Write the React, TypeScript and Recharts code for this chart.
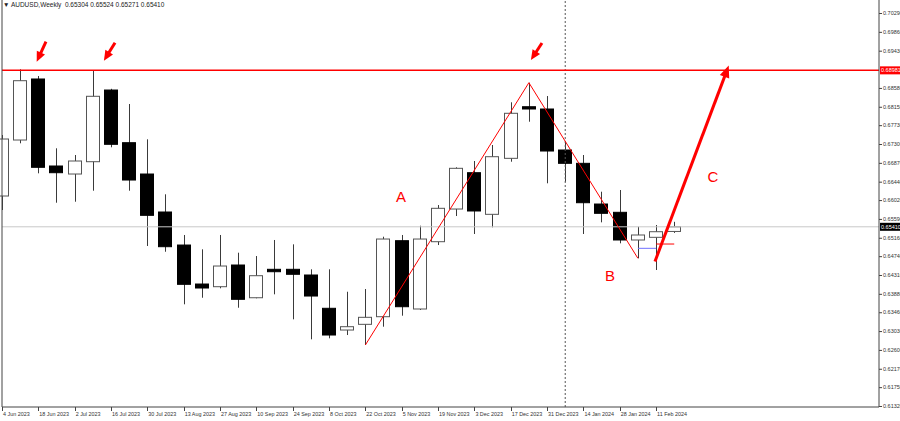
import React from 'react';
import { ComposedChart, Bar, XAxis, YAxis, ReferenceLine, ReferenceDot } from 'recharts';

const weeks = [
  '4 Jun 2023', '11 Jun 2023', '18 Jun 2023', '25 Jun 2023', '2 Jul 2023', '9 Jul 2023', '16 Jul 2023',
  '23 Jul 2023', '30 Jul 2023', '6 Aug 2023', '13 Aug 2023', '20 Aug 2023', '27 Aug 2023', '3 Sep 2023',
  '10 Sep 2023', '17 Sep 2023', '24 Sep 2023', '1 Oct 2023', '8 Oct 2023', '15 Oct 2023', '22 Oct 2023',
  '29 Oct 2023', '5 Nov 2023', '12 Nov 2023', '19 Nov 2023', '26 Nov 2023', '3 Dec 2023', '10 Dec 2023',
  '17 Dec 2023', '24 Dec 2023', '31 Dec 2023', '7 Jan 2024', '14 Jan 2024', '21 Jan 2024', '28 Jan 2024',
  '4 Feb 2024', '11 Feb 2024', '18 Feb 2024',
];

const opens = [
  0.66113, 0.67391, 0.68784, 0.66798, 0.66615, 0.66896, 0.68532, 0.6733, 0.66615, 0.65748,
  0.64994, 0.64104, 0.64043, 0.64538, 0.63791, 0.6444, 0.6444, 0.6431, 0.6355, 0.63054,
  0.63184, 0.63358, 0.65093, 0.63534, 0.6507, 0.65816, 0.66645, 0.65695, 0.66973, 0.68151,
  0.68099, 0.67163, 0.66859, 0.6593, 0.65741, 0.65109, 0.6517, 0.65304,
];
const highs = [
  0.67505, 0.69005, 0.68852, 0.67202, 0.67049, 0.68966, 0.6856, 0.68213, 0.67407, 0.66152,
  0.65223, 0.64896, 0.65223, 0.64819, 0.64743, 0.65109, 0.6501, 0.6444, 0.6444, 0.63928,
  0.6399, 0.65184, 0.65223, 0.65435, 0.65907, 0.66768, 0.66912, 0.67277, 0.68252, 0.68699,
  0.68395, 0.67352, 0.67049, 0.66211, 0.6625, 0.65412, 0.65451, 0.65524,
];
const lows = [
  0.65793, 0.67316, 0.66631, 0.6596, 0.65983, 0.66234, 0.67225, 0.66234, 0.64972, 0.64841,
  0.63641, 0.63791, 0.64006, 0.63563, 0.63778, 0.63869, 0.63298, 0.62842, 0.62865, 0.6294,
  0.62712, 0.6313, 0.63381, 0.63511, 0.64994, 0.65656, 0.65246, 0.65398, 0.66896, 0.67809,
  0.66403, 0.66439, 0.65246, 0.65512, 0.65033, 0.64691, 0.64424, 0.65271,
];
const closes = [
  0.67414, 0.68745, 0.66768, 0.66645, 0.66912, 0.68389, 0.67293, 0.66478, 0.65672, 0.64956,
  0.64097, 0.64013, 0.64515, 0.63755, 0.64294, 0.64385, 0.64326, 0.6383, 0.6294, 0.6313,
  0.63344, 0.65131, 0.63586, 0.65131, 0.65832, 0.66745, 0.65771, 0.6701, 0.68001, 0.68099,
  0.6714, 0.66859, 0.6596, 0.65718, 0.65109, 0.65223, 0.65298, 0.6541,
];

const xTickIdx = [0, 2, 4, 6, 8, 10, 12, 14, 16, 18, 20, 22, 24, 26, 28, 30, 32, 34, 36];
const priceTicks = [
  0.7029, 0.6986, 0.6943, 0.68981, 0.6858, 0.6815, 0.6773, 0.673, 0.6687, 0.6644, 0.6602,
  0.6559, 0.6541, 0.6516, 0.6474, 0.6431, 0.6388, 0.6346, 0.6303, 0.626, 0.6217, 0.6175, 0.6132,
];
const resistanceLevel = 0.68981;
const lastPrice = 0.6541;
const separatorIdx = 31;

// annotation anchors in data coordinates
const zigzagIdx = [20, 29, 35];
const blueLevel = { x1: 35, x2: 36, y: 0.64919 };
const redLevel = { x1: 36, x2: 37, y: 0.65017 };
const bigArrow = { x1: 35.94, y1: 0.6462, x2: 40, y2: 0.6909 };
const smallArrows = [
  { x1: 2.42, y1: 0.69635, x2: 1.91, y2: 0.69178 },
  { x1: 6.22, y1: 0.69612, x2: 5.61, y2: 0.69201 },
  { x1: 29.72, y1: 0.69605, x2: 29.11, y2: 0.69217 },
];
const waveLabels = [
  { t: 'A', x: 21.96, y: 0.6609 },
  { t: 'B', x: 33.46, y: 0.64287 },
  { t: 'C', x: 39.13, y: 0.66547 },
];

const data = weeks.map((w, i) => ({
  i,
  w,
  o: opens[i],
  h: highs[i],
  l: lows[i],
  c: closes[i],
  range: [lows[i], highs[i]],
}));

const FONT = '"Liberation Sans", Arial, sans-serif';

const Candle = (props: any) => {
  const { x, y, width, height, payload } = props;
  if (!payload || height == null) return null;
  const { o, h, l, c } = payload;
  const span = h - l || 1e-9;
  const toY = (v: number) => y + ((h - v) / span) * height;
  const cx = Math.round(x + width / 2) + 0.5;
  const top = toY(Math.max(o, c));
  const bot = toY(Math.min(o, c));
  const up = c >= o;
  const bx = Math.round(x) + 0.5;
  const bw = Math.round(width) - 1;
  return (
    <g>
      <line x1={cx} x2={cx} y1={y} y2={y + height} stroke="#3a3a3a" strokeWidth={1} />
      <rect
        x={bx}
        y={top}
        width={bw}
        height={Math.max(bot - top, 1.5)}
        fill={up ? '#ffffff' : '#000000'}
        stroke={up ? '#555555' : '#000000'}
        strokeWidth={1}
      />
    </g>
  );
};

const arrowShape = (w: number, head: number, headW: number) => (p: any) => {
  const { x1, y1, x2, y2 } = p;
  const dx = x2 - x1;
  const dy = y2 - y1;
  const len = Math.hypot(dx, dy) || 1;
  const ux = dx / len;
  const uy = dy / len;
  const bx = x2 - ux * head;
  const by = y2 - uy * head;
  const nx = -uy;
  const ny = ux;
  return (
    <g>
      <line x1={x1} y1={y1} x2={bx + ux * 1} y2={by + uy * 1} stroke="#ff0000" strokeWidth={w} />
      <polygon
        points={`${x2},${y2} ${bx + (nx * headW) / 2},${by + (ny * headW) / 2} ${bx - (nx * headW) / 2},${by - (ny * headW) / 2}`}
        fill="#ff0000"
      />
    </g>
  );
};

const YTick = (props: any) => {
  const { x, y, payload } = props;
  const v = payload.value as number;
  const label = v.toFixed(5);
  if (v === resistanceLevel || v === lastPrice) {
    const bg = v === resistanceLevel ? '#ff0000' : '#000000';
    return (
      <g>
        <rect x={x + 1} y={y - 4} width={30} height={8} fill={bg} />
        <text x={x + 2} y={y + 2} fontSize={5.5} fontFamily={FONT} fill="#ffffff">
          {label}
        </text>
      </g>
    );
  }
  return (
    <g>
      <line x1={x} x2={x + 3} y1={y + 0.5} y2={y + 0.5} stroke="#444" />
      <text x={x + 4} y={y + 2} fontSize={5.5} fontFamily={FONT} fill="#333">
        {label}
      </text>
    </g>
  );
};

const XTick = (props: any) => {
  const { x, y, payload } = props;
  const idx = payload.value as number;
  const xx = Math.round(x) + 0.5;
  return (
    <g>
      <line x1={xx} x2={xx} y1={y} y2={y + 4} stroke="#444" />
      <text x={x + 1} y={y + 8.5} fontSize={5.4} fontFamily={FONT} fill="#333">
        {weeks[idx]}
      </text>
    </g>
  );
};

const xDomain: [number, number] = [0, 48.27];
const yDomain: [number, number] = [0.61297, 0.70587];

export default function App() {
  return (
    <div style={{ position: 'absolute', left: 0, top: 0, width: 900, height: 421, background: '#fff', overflow: 'hidden' }}>
      <ComposedChart width={900} height={421} data={data} margin={{ top: 0, right: 0, bottom: 0, left: 0 }}>
        <XAxis
          dataKey="i"
          type="number"
          domain={xDomain}
          ticks={xTickIdx}
          interval={0}
          height={14}
          tickSize={0}
          tickMargin={0}
          tick={<XTick />}
          axisLine={{ stroke: '#444' }}
          tickLine={false}
        />
        <YAxis
          yAxisId="frame"
          orientation="left"
          width={2}
          domain={yDomain}
          tick={false}
          tickLine={false}
          axisLine={{ stroke: '#444' }}
        />
        <YAxis
          orientation="right"
          width={21}
          domain={yDomain}
          ticks={priceTicks}
          interval={0}
          tickSize={0}
          tickMargin={0}
          tick={<YTick />}
          tickLine={false}
          axisLine={{ stroke: '#444' }}
        />
        <ReferenceLine y={lastPrice} stroke="#c8c8c8" strokeWidth={1} />
        <ReferenceLine x={separatorIdx} stroke="#555" strokeDasharray="2 2" strokeWidth={1} />
        <ReferenceLine y={resistanceLevel} stroke="#ff0000" strokeWidth={1.5} />
        <Bar dataKey="range" barSize={14} shape={<Candle />} isAnimationActive={false} />
        <ReferenceLine
          segment={[
            { x: zigzagIdx[0], y: lows[zigzagIdx[0]] },
            { x: zigzagIdx[1], y: highs[zigzagIdx[1]] },
          ]}
          stroke="#ff0000"
          strokeWidth={1}
        />
        <ReferenceLine
          segment={[
            { x: zigzagIdx[1], y: highs[zigzagIdx[1]] },
            { x: zigzagIdx[2], y: lows[zigzagIdx[2]] },
          ]}
          stroke="#ff0000"
          strokeWidth={1}
        />
        <ReferenceLine
          segment={[
            { x: blueLevel.x1, y: blueLevel.y },
            { x: blueLevel.x2, y: blueLevel.y },
          ]}
          stroke="#7070ff"
          strokeWidth={1}
        />
        <ReferenceLine
          segment={[
            { x: redLevel.x1, y: redLevel.y },
            { x: redLevel.x2, y: redLevel.y },
          ]}
          stroke="#ff0000"
          strokeWidth={1}
        />
        <ReferenceLine
          segment={[
            { x: bigArrow.x1, y: bigArrow.y1 },
            { x: bigArrow.x2, y: bigArrow.y2 },
          ]}
          shape={arrowShape(3, 12, 10)}
        />
        {smallArrows.map((a, k) => (
          <ReferenceLine
            key={`sa${k}`}
            segment={[
              { x: a.x1, y: a.y1 },
              { x: a.x2, y: a.y2 },
            ]}
            shape={arrowShape(3, 10, 9)}
          />
        ))}
        {waveLabels.map((lb) => (
          <ReferenceDot
            key={lb.t}
            x={lb.x}
            y={lb.y}
            r={0}
            shape={(p: any) => (
              <text
                x={p.cx}
                y={p.cy + 5}
                textAnchor="middle"
                fontSize={15}
                fontFamily={FONT}
                fill="#ff0000"
              >
                {lb.t}
              </text>
            )}
          />
        ))}
      </ComposedChart>
      <div
        style={{
          position: 'absolute',
          left: 3,
          top: 1,
          fontFamily: FONT,
          fontSize: 6.5,
          color: '#222',
          whiteSpace: 'pre',
          lineHeight: '8px',
        }}
      >
        {'\u25BC AUDUSD,Weekly  0.65304 0.65524 0.65271 0.65410'}
      </div>
    </div>
  );
}
